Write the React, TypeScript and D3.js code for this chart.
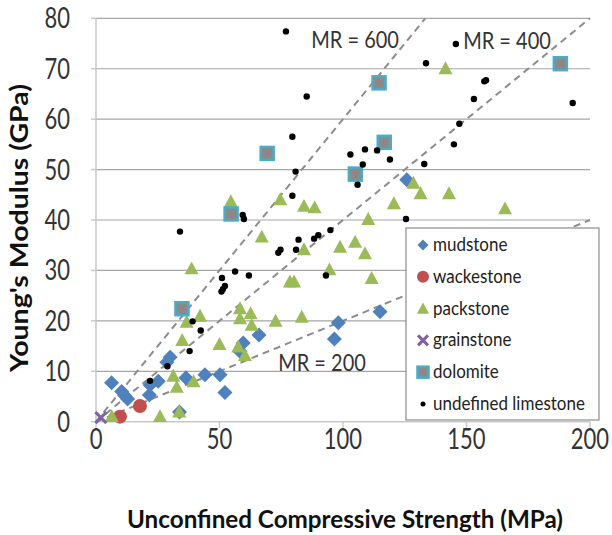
import React from "react";
import * as d3 from "d3";

// ---------- DATA ----------
const mudstoneUCS = [6.3, 10.4, 12.8, 11.6, 21.6, 21.9, 25.2, 30.0, 28.7, 36.4, 44.1, 50.2, 52.2, 33.8, 58.3, 59.6, 66.0, 96.5, 98.1, 115.0, 125.8];
const mudstoneE = [7.7, 6.0, 4.5, 5.2, 5.3, 7.3, 8.0, 12.8, 11.8, 8.7, 9.3, 9.3, 5.8, 1.9, 13.9, 15.6, 17.2, 16.4, 19.6, 21.8, 48.0];

const wackestoneUCS = [17.8, 9.7];
const wackestoneE = [3.1, 1.0];

const packstoneUCS = [6.4, 25.9, 33.7, 31.3, 32.7, 39.5, 34.9, 36.7, 42.1, 50.0, 38.7, 54.6, 58.3, 58.3, 62.6, 63.0, 57.6, 60.3, 67.1, 72.7, 74.6, 83.3, 78.5, 80.2, 84.2, 88.5, 84.2, 94.5, 98.8, 104.9, 108.9, 110.2, 111.6, 120.6, 128.5, 131.4, 141.5, 142.9, 165.6];
const packstoneE = [1.1, 1.1, 2.0, 9.1, 6.9, 8.0, 16.2, 19.8, 21.0, 15.4, 30.4, 43.7, 22.5, 20.5, 21.5, 19.2, 14.9, 13.2, 36.7, 20.0, 44.1, 20.8, 27.8, 27.8, 42.8, 42.5, 34.2, 30.2, 34.7, 35.7, 33.4, 40.2, 28.5, 43.3, 47.4, 45.3, 70.1, 45.3, 42.3];

const grainstoneUCS = [2.0];
const grainstoneE = [0.8];

const dolomiteUCS = [34.8, 54.7, 69.3, 105.0, 116.7, 114.6, 188.0];
const dolomiteE = [22.4, 41.2, 53.2, 49.1, 55.4, 67.2, 71.0];

const limestoneUCS = [76.9, 85.3, 133.6, 79.5, 80.8, 79.5, 103.0, 108.9, 113.8, 108.0, 119.0, 105.9, 132.9, 125.5, 145.7, 157.2, 157.9, 153.0, 147.1, 144.9, 193.0, 59.4, 59.9, 56.3, 61.9, 51.0, 52.2, 51.4, 50.8, 73.8, 74.7, 81.0, 82.0, 88.3, 90.0, 94.9, 93.1, 39.1, 42.4, 37.9, 28.9, 21.9, 34.0];
const limestoneE = [77.4, 64.5, 71.1, 56.5, 49.6, 44.8, 53.0, 54.0, 53.8, 51.0, 52.0, 47.0, 51.1, 40.2, 74.9, 67.5, 67.7, 64.0, 59.1, 55.0, 63.2, 41.0, 40.2, 29.8, 29.0, 28.5, 26.9, 26.3, 25.8, 33.5, 34.1, 34.1, 36.1, 36.3, 37.0, 38.0, 29.0, 19.9, 18.1, 14.0, 11.0, 8.1, 37.7];

const mrValues = [600, 400, 200];
const mrLabelX = [104.9, 166.4, 91.5];
const mrLabelY = [75.9, 75.7, 11.8];

const xTicks = [0, 50, 100, 150, 200];
const yTicks = [0, 10, 20, 30, 40, 50, 60, 70, 80];

const legendNames = ["mudstone", "wackestone", "packstone", "grainstone", "dolomite", "undefined limestone"];

// ---------- STYLE ----------
const FONT = "Lato, 'Open Sans', sans-serif";
const C_MUD = "#4f81bd";
const C_WACK = "#c0504d";
const C_PACK = "#9bbb59";
const C_GRAIN = "#8064a2";
const C_DOLO_FILL = "#8a8a8a";
const C_DOLO_STROKE = "#4bacc6";
const STRETCH = 1.3;

const W = 612;
const H = 535;

const zip = (a: number[], b: number[]) => a.map((v, i) => [v, b[i]] as [number, number]);

function Diamond({ cx, cy, r }: { cx: number; cy: number; r: number }) {
  return <path d={`M${cx},${cy - r}L${cx + r},${cy}L${cx},${cy + r}L${cx - r},${cy}Z`} fill={C_MUD} />;
}
function Tri({ cx, cy, r }: { cx: number; cy: number; r: number }) {
  return <path d={`M${cx},${cy - r}L${cx + r},${cy + r * 0.85}L${cx - r},${cy + r * 0.85}Z`} fill={C_PACK} />;
}
function Cross({ cx, cy, r }: { cx: number; cy: number; r: number }) {
  return (
    <path d={`M${cx - r},${cy - r}L${cx + r},${cy + r}M${cx - r},${cy + r}L${cx + r},${cy - r}`} stroke={C_GRAIN} strokeWidth={3} fill="none" />
  );
}
function Square({ cx, cy, r }: { cx: number; cy: number; r: number }) {
  return (
    <g>
      <rect x={cx - r} y={cy - r} width={2 * r} height={2 * r} fill={C_DOLO_FILL} stroke={C_DOLO_STROKE} strokeWidth={2.5} />
      <circle cx={cx} cy={cy} r={r * 0.35} fill="#a07a7a" opacity={0.5} />
    </g>
  );
}

export default function App() {
  const x = d3.scaleLinear().domain([0, 200]).range([96, 590]);
  const y = d3.scaleLinear().domain([0, 80]).range([421.7, 18.3]);

  const line = d3
    .line<[number, number]>()
    .x((d) => x(d[0]))
    .y((d) => y(d[1]));

  const legendX = 406;
  const legendY = 228;
  const legendW = 193;
  const legendH = 192;
  const rowH = 31.8;

  return (
    <svg width={W} height={H} style={{ position: "absolute", left: 0, top: 0, background: "#fff" }} fontFamily={FONT}>
      {/* gridlines */}
      {yTicks.filter((t) => t > 0).map((t) => (
        <line key={"g" + t} x1={x(0)} x2={x(200)} y1={y(t)} y2={y(t)} stroke="#a6a6a6" strokeWidth={1.2} />
      ))}
      {/* axes */}
      <line x1={x(0)} x2={x(0)} y1={y(0)} y2={y(80)} stroke="#c8c8c8" strokeWidth={1.5} />
      <line x1={x(0)} x2={x(200)} y1={y(0)} y2={y(0)} stroke="#c8c8c8" strokeWidth={1.5} />
      {xTicks.map((t) => (
        <line key={"xt" + t} x1={x(t)} x2={x(t)} y1={y(0)} y2={y(0) + 6} stroke="#c8c8c8" strokeWidth={1.5} />
      ))}
      {yTicks.map((t) => (
        <line key={"yt" + t} x1={x(0) - 5} x2={x(0)} y1={y(t)} y2={y(t)} stroke="#c8c8c8" strokeWidth={1.5} />
      ))}
      {/* tick labels */}
      {xTicks.map((t) => (
        <text
          key={"xl" + t}
          transform={`translate(${x(t)},${y(0) + 27}) scale(1,${STRETCH})`}
          textAnchor="middle"
          fontSize={22}
          fill="#333"
        >
          {t}
        </text>
      ))}
      {yTicks.map((t) => (
        <text
          key={"yl" + t}
          transform={`translate(${x(0) - 26},${y(t) + 10}) scale(1,${STRETCH})`}
          textAnchor="end"
          fontSize={22}
          fill="#333"
        >
          {t}
        </text>
      ))}
      {/* axis titles */}
      <text
        transform={`translate(345,528) scale(1,1.1)`}
        textAnchor="middle"
        fontSize={23}
        fontWeight="bold"
        fill="#111"
        textLength={436}
        lengthAdjust="spacingAndGlyphs"
      >
        Unconfined Compressive Strength (MPa)
      </text>
      <text
        transform={`translate(28,228) rotate(-90)`}
        textAnchor="middle"
        fontSize={25}
        fontWeight="bold"
        fill="#111"
        textLength={288}
        lengthAdjust="spacingAndGlyphs"
      >
        Young's Modulus (GPa)
      </text>

      {/* MR lines */}
      {mrValues.map((mr) => {
        const xmax = Math.min(200, (80 * 1000) / mr);
        const pts: [number, number][] = [
          [0, 0],
          [xmax, (xmax * mr) / 1000],
        ];
        return <path key={"mr" + mr} d={line(pts) || ""} stroke="#8c8c8c" strokeWidth={2} strokeDasharray="7,5" fill="none" />;
      })}

      {/* series */}
      {zip(mudstoneUCS, mudstoneE).map((d, i) => (
        <Diamond key={"m" + i} cx={x(d[0])} cy={y(d[1])} r={7.5} />
      ))}
      {zip(wackestoneUCS, wackestoneE).map((d, i) => (
        <circle key={"w" + i} cx={x(d[0])} cy={y(d[1])} r={7} fill={C_WACK} />
      ))}
      {zip(packstoneUCS, packstoneE).map((d, i) => (
        <Tri key={"p" + i} cx={x(d[0])} cy={y(d[1])} r={7} />
      ))}
      {zip(grainstoneUCS, grainstoneE).map((d, i) => (
        <Cross key={"g" + i} cx={x(d[0])} cy={y(d[1])} r={5.5} />
      ))}
      {zip(dolomiteUCS, dolomiteE).map((d, i) => (
        <Square key={"d" + i} cx={x(d[0])} cy={y(d[1])} r={6.5} />
      ))}
      {zip(limestoneUCS, limestoneE).map((d, i) => (
        <circle key={"l" + i} cx={x(d[0])} cy={y(d[1])} r={3.2} fill="#000" />
      ))}

      {/* MR labels */}
      {mrValues.map((mr, i) => (
        <text
          key={"mrl" + mr}
          transform={`translate(${x(mrLabelX[i])},${y(mrLabelY[i]) + 9}) scale(1,1.2)`}
          textAnchor="middle"
          fontSize={20}
          fill="#333"
        >
          {`MR = ${mr}`}
        </text>
      ))}

      {/* legend */}
      <rect x={legendX} y={legendY} width={legendW} height={legendH} fill="#fff" stroke="#8c8c8c" strokeWidth={1.2} />
      {legendNames.map((name, i) => {
        const cy = legendY + 17 + i * rowH;
        const cx = legendX + 17;
        let sym: React.ReactNode = null;
        if (i === 0) sym = <Diamond cx={cx} cy={cy} r={5.5} />;
        if (i === 1) sym = <circle cx={cx} cy={cy} r={6} fill={C_WACK} />;
        if (i === 2) sym = <Tri cx={cx} cy={cy} r={6} />;
        if (i === 3) sym = <Cross cx={cx} cy={cy} r={5} />;
        if (i === 4) sym = <Square cx={cx} cy={cy} r={5.5} />;
        if (i === 5) sym = <circle cx={cx} cy={cy} r={2.5} fill="#000" />;
        return (
          <g key={"leg" + i}>
            {sym}
            <text transform={`translate(${legendX + 27},${cy + 6}) scale(1,1.12)`} fontSize={17} fill="#222">
              {name}
            </text>
          </g>
        );
      })}
    </svg>
  );
}
